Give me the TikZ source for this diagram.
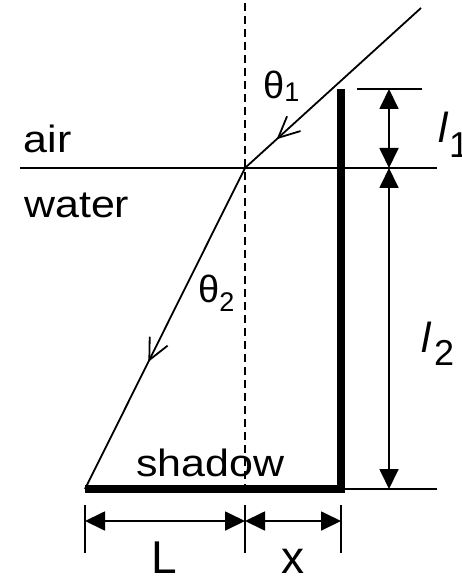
\documentclass[tikz,border=0pt]{standalone}
\usepackage{fontspec}
\setmainfont{Liberation Sans}
\newfontfamily\widefont[FakeStretch=1.13]{Liberation Sans}
\usetikzlibrary{arrows.meta,decorations.markings}
\begin{document}
\begin{tikzpicture}[x=1pt,y=-1pt,
  fine/.style={line width=1.8pt},
  bar/.style={line width=7.5pt, line join=miter},
  dimtip/.tip={Triangle[length=20pt,width=19pt]},
  dimline/.style={fine, dimtip-dimtip},
  tick/.style={fine},
  normal/.style={line width=1.5pt, dash pattern=on 8pt off 5pt},
  barbat/.style={postaction={decorate, decoration={markings,
     mark=at position #1 with {\arrow{Straight Barb[length=21pt,width=20pt,line width=1.8pt]}}}}},
  lbl/.style={anchor=base west, inner sep=0pt, font=\widefont\fontsize{38}{38}\selectfont},
  greek/.style={anchor=base west, inner sep=0pt, font=\fontsize{38}{38}\selectfont},
  big/.style={anchor=base west, inner sep=0pt, font=\fontsize{46}{46}\selectfont},
  lenlbl/.style={anchor=base west, inner sep=0pt, font=\fontsize{42}{42}\selectfont\itshape}]
\useasboundingbox (0,0) rectangle (462,577);

% key points
\coordinate (S) at (421,8);
\coordinate (O) at (245,168);
\coordinate (B) at (85,489);
\coordinate (Ntop) at (245,3);
\coordinate (Nbot) at (245,489);
\coordinate (SurfL) at (20,168);
\coordinate (SurfR) at (437,168);
\coordinate (PoleTop) at (341,89);
\coordinate (PoleBot) at (341,489);
\coordinate (BotR) at (437,489);
\coordinate (TopTickL) at (357,89);
\coordinate (TopTickR) at (422,89);
\coordinate (D1) at (389,89);
\coordinate (D2) at (389,168);
\coordinate (D3) at (389,489);
\coordinate (T1a) at (85,505);  \coordinate (T1b) at (85,553);
\coordinate (T2a) at (245,505); \coordinate (T2b) at (245,553);
\coordinate (T3a) at (341,505); \coordinate (T3b) at (341,553);
\coordinate (H1) at (85,521);
\coordinate (H2) at (245,521);
\coordinate (H3) at (341,521);

% surface and normal
\draw[fine] (SurfL) -- (SurfR);
\draw[normal] (Ntop) -- (Nbot);

% rays
\draw[fine, barbat=0.82] (S) -- (O);
\draw[fine, barbat=0.604] (O) -- (B);

% pole and shadow
\draw[bar] (PoleTop) -- (PoleBot) -- (B);
\draw[fine] (PoleBot) -- (BotR);
\draw[fine] (TopTickL) -- (TopTickR);

% vertical dimensions
\draw[dimline] (D1) -- (D2);
\draw[dimline] (D2) -- (D3);

% horizontal dimensions
\draw[tick] (T1a) -- (T1b);
\draw[tick] (T2a) -- (T2b);
\draw[tick] (T3a) -- (T3b);
\draw[dimline] (H1) -- (H2);
\draw[dimline] (H2) -- (H3);

% labels
\node[lbl] (air) at (23.5,153) {air};
\node[lbl] (water) at (24,217.5) {water};
\node[lbl] (shadow) at (136,476.5) {shadow};
\node[greek] (th1) at (263,99) {θ\raisebox{-3pt}{\fontsize{27}{27}\selectfont 1}};
\node[greek] (th2) at (198,302) {θ\raisebox{-9pt}{\fontsize{27}{27}\selectfont 2}};
\node[big] (Llbl) at (151.5,573) {L};
\node[big] (xlbl) at (281.5,573) {x};
\node[lenlbl] (l1) at (438,143) {l\hspace{1.5pt}\raisebox{-15pt}{\upshape\fontsize{36}{36}\selectfont 1}};
\node[lenlbl] (l2) at (421,352) {l\hspace{3.5pt}\raisebox{-13pt}{\upshape\fontsize{36}{36}\selectfont 2}};
\end{tikzpicture}
\end{document}
